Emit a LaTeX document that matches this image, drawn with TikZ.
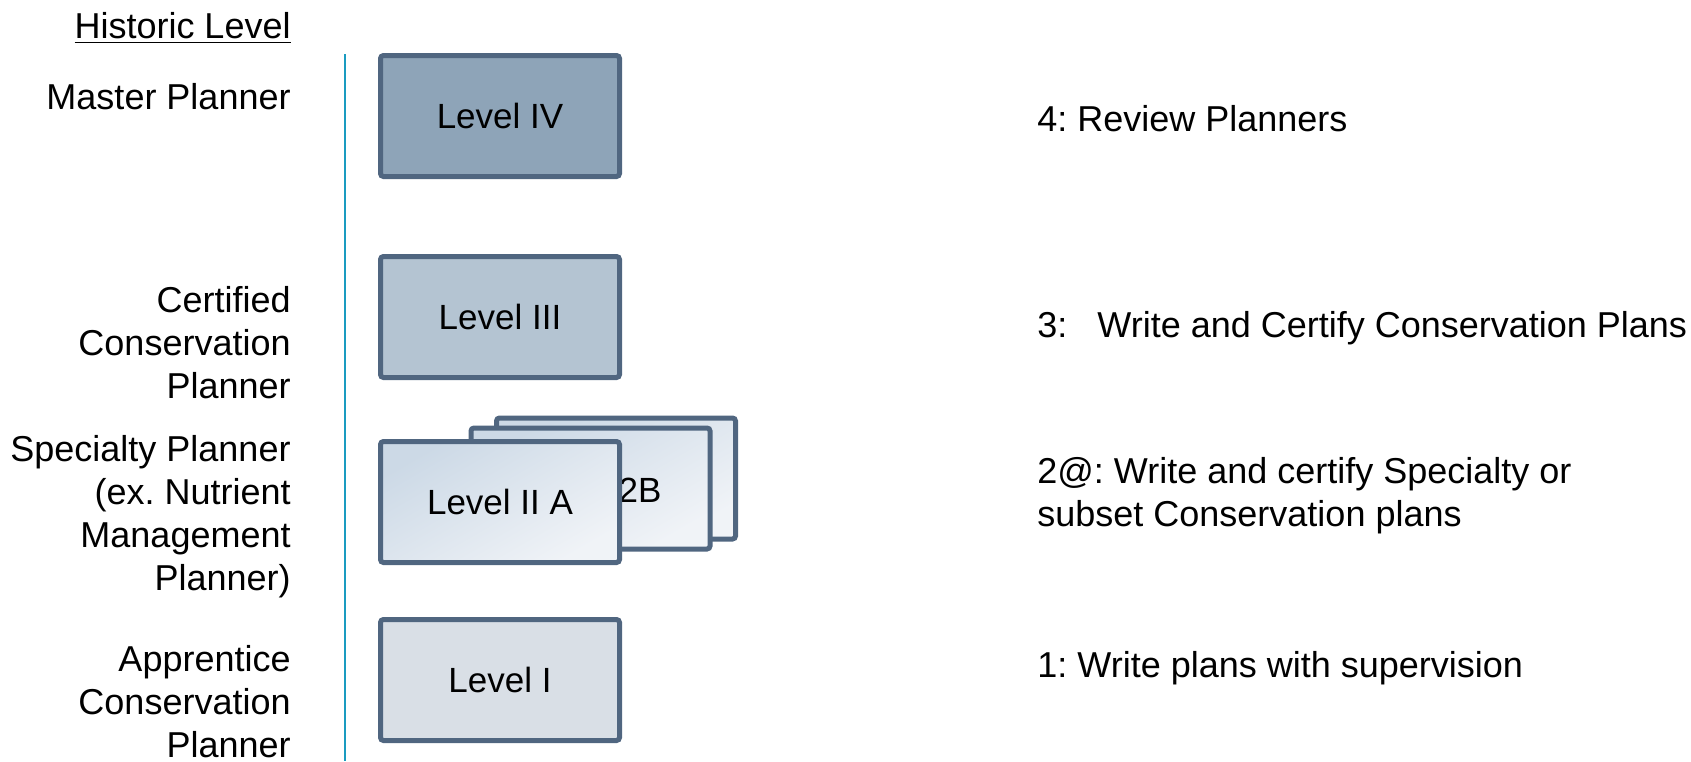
\documentclass[tikz,border=0pt]{standalone}
\usepackage{fontspec}
\setmainfont{Liberation Sans}
\frenchspacing
\definecolor{bord}{RGB}{80,102,128}
\definecolor{fillIV}{RGB}{142,164,184}
\definecolor{fillIII}{RGB}{180,196,210}
\definecolor{fillI}{RGB}{217,223,230}
\definecolor{gradA}{RGB}{204,217,230}
\definecolor{gradB}{RGB}{240,243,247}
\definecolor{vline}{RGB}{26,155,192}
\begin{document}
\begin{tikzpicture}[x=0.5pt,y=-0.5pt,
  lvbox/.style={draw=bord, line width=2.5pt, rounded corners=1.5pt, minimum width=119.5pt, minimum height=60.5pt, inner sep=0pt, font=\fontsize{17.5}{21}\selectfont},
  lvgrad/.style={lvbox, top color=gradA, bottom color=gradB, shading angle=30},
  lbl/.style={anchor=east, align=right, inner sep=0pt, font=\fontsize{18}{21.5}\selectfont},
  rtxt/.style={anchor=west, align=left, inner sep=0pt, font=\fontsize{18}{21.5}\selectfont}]
\useasboundingbox (0,0) rectangle (1691,761);
\coordinate (ltop) at (345,54);
\coordinate (lbot) at (345,761);
\draw[vline, line width=1pt] (ltop) -- (lbot);
% boxes
\node[lvbox, fill=fillIV] (l4) at (500,116) {Level IV};
\node[lvbox, fill=fillIII] (l3) at (500,317) {Level III};
\node[lvgrad] (l2c) at (616,478.5) {};
\node[lvgrad] (l2b) at (590.5,488.5) {};
\node[inner sep=0pt, font=\fontsize{17.5}{21}\selectfont] (t2b) at (640,490) {2B};
\node[lvgrad] (l2a) at (500,502) {Level II A};
\node[lvbox, fill=fillI] (l1) at (500,680) {Level I};
% left labels
\node[lbl] (hist) at (291,28) {\underline{Historic Level}};
\node[lbl] (mp) at (291,97) {Master Planner};
\node[lbl] (ccp) at (291,343) {Certified\\Conservation\\Planner};
\node[lbl] (sp) at (291,517) {Specialty Planner\\(ex. Nutrient\\Management\\Planner)};
\node[lbl] (acp) at (291,702) {Apprentice\\Conservation\\Planner};
% right texts
\node[rtxt] (r4) at (1037,119) {4: Review Planners};
\node[rtxt] (r3) at (1037,328) {3:\hspace{15pt}Write and Certify Conservation Plans};
\node[rtxt] (r2) at (1037,496) {2@: Write and certify Specialty or\\subset Conservation plans};
\node[rtxt] (r1) at (1037,668) {1: Write plans with supervision};
\end{tikzpicture}
\end{document}
